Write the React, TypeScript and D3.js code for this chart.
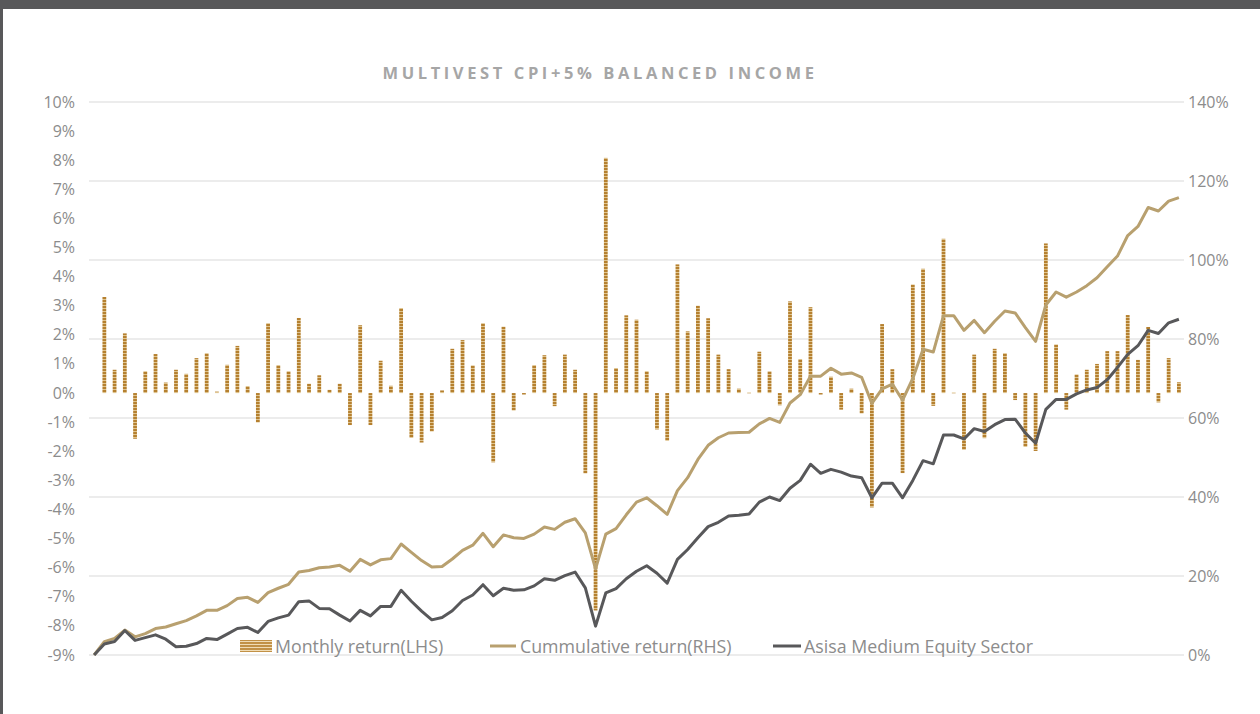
import React from "react";
import * as d3 from "d3";

const monthlyReturn: (number | null)[] = [
  null, 3.3, 0.8, 2.05, -1.57, 0.75, 1.34, 0.36, 0.8, 0.66, 1.2, 1.37, 0.05, 0.97, 1.62, 0.24, -1.01, 2.4, 0.96, 0.75, 2.58,
  0.32, 0.61, 0.11, 0.32, -1.1, 2.33, -1.1, 1.11, 0.25, 2.92, -1.54, -1.7, -1.32, 0.09, 1.52, 1.82, 0.95, 2.4, -2.38, 2.28, -0.6, -0.05,
  0.96, 1.3, -0.45, 1.32, 0.8, -2.76, -7.47, 8.08, 0.86, 2.67, 2.52, 0.75, -1.25, -1.64, 4.42, 2.12, 3.0, 2.57, 1.32, 0.82, 0.15,
  0.02, 1.42, 0.75, -0.42, 3.15, 1.17, 2.95, -0.05, 0.56, -0.57, 0.15, -0.7, -3.93, 2.37, 0.82, -2.75, 3.73, 4.27, -0.44, 5.3, 0.02,
  -1.95, 1.32, -1.55, 1.52, 1.37, -0.24, -1.85, -1.99, 5.14, 1.67, -0.57, 0.64, 0.8, 1.0, 1.44, 1.44, 2.68, 1.14, 2.27, -0.32, 1.2, 0.37,
];

const cumulativeReturn: number[] = [
  0, 3.4, 4.2, 6.3, 4.6, 5.4, 6.7, 7.1, 7.9, 8.7, 9.9, 11.3, 11.3, 12.5, 14.3, 14.6, 13.3, 15.8, 16.9, 17.9, 21.0,
  21.4, 22.1, 22.3, 22.7, 21.2, 24.2, 22.8, 24.1, 24.4, 28.1, 26.0, 23.9, 22.3, 22.4, 24.3, 26.5, 27.8, 30.8, 27.4, 30.4, 29.7, 29.5,
  30.6, 32.4, 31.8, 33.6, 34.5, 30.9, 21.8, 30.6, 32.0, 35.5, 38.7, 39.8, 37.8, 35.6, 41.6, 44.9, 49.5, 53.1, 55.0, 56.2, 56.3,
  56.4, 58.5, 59.9, 58.9, 63.8, 65.9, 70.6, 70.6, 72.6, 71.1, 71.4, 70.3, 63.7, 67.4, 68.6, 64.5, 70.0, 77.4, 76.7, 85.9, 85.9,
  82.2, 84.7, 81.6, 84.5, 87.1, 86.6, 82.9, 79.4, 88.6, 91.9, 90.6, 91.9, 93.5, 95.5, 98.3, 101.0, 106.2, 108.5, 113.3, 112.4, 114.9, 115.8,
];

const asisaSector: number[] = [
  0, 2.8, 3.4, 6.2, 3.7, 4.4, 5.1, 4.0, 2.1, 2.2, 2.9, 4.2, 3.9, 5.3, 6.7, 7.0, 5.7, 8.5, 9.4, 10.1, 13.5,
  13.7, 11.8, 11.7, 10.1, 8.6, 11.3, 9.9, 12.3, 12.3, 16.4, 13.6, 11.1, 8.9, 9.5, 11.2, 13.8, 15.2, 17.8, 15.0, 16.9, 16.4, 16.5,
  17.5, 19.3, 18.9, 20.1, 21.0, 17.0, 7.3, 15.7, 16.8, 19.3, 21.2, 22.6, 20.7, 18.2, 24.2, 26.7, 29.7, 32.5, 33.6, 35.2, 35.4,
  35.7, 38.7, 40.0, 39.1, 42.2, 44.2, 48.3, 46.0, 47.0, 46.3, 45.3, 44.9, 39.8, 43.5, 43.5, 39.8, 44.2, 49.2, 48.4, 55.7, 55.7,
  54.7, 57.3, 56.6, 58.3, 59.6, 59.7, 56.2, 53.6, 62.2, 64.7, 64.7, 66.1, 67.1, 67.7, 69.7, 72.8, 76.1, 78.3, 82.2, 81.4, 84.1, 85.0,
];

const categories: number[] = cumulativeReturn.map((_, i) => i);
const leftTicks: number[] = [10, 9, 8, 7, 6, 5, 4, 3, 2, 1, 0, -1, -2, -3, -4, -5, -6, -7, -8, -9];
const rightTicks: number[] = [0, 20, 40, 60, 80, 100, 120, 140];

const TITLE = "MULTIVEST CPI+5% BALANCED INCOME";
const LEGEND = ["Monthly return(LHS)", "Cummulative return(RHS)", "Asisa Medium Equity Sector"];

const W = 1260;
const H = 714;
const FONT = "'Open Sans', 'Noto Sans', sans-serif";
const GOLD = "#b8a06f";
const DARK = "#58585a";
const LABEL = "#8c8c8c";

export default function App() {
  const x = d3.scaleBand<number>().domain(categories).range([89, 1184]).paddingInner(0.63).paddingOuter(0.315);
  const step = x.step();
  const cx = (i: number) => 89 + step * (i + 0.5);
  const yL = d3.scaleLinear().domain([-9, 10]).range([655, 102]);
  const yR = d3.scaleLinear().domain([0, 140]).range([655, 102]);

  const lineGen = d3
    .line<number>()
    .x((_, i) => cx(i))
    .y((d) => yR(d));

  return (
    <svg width={W} height={H} style={{ position: "absolute", left: 0, top: 0, background: "#fff" }}>
      <defs>
        <pattern id="barPat" width="4" height="3" patternUnits="userSpaceOnUse">
          <rect width="4" height="3" fill="#b5802f" />
          <rect y="2" width="4" height="1" fill="#dfc48f" />
        </pattern>
        <pattern id="legPat" width="4" height="3" patternUnits="userSpaceOnUse">
          <rect width="4" height="3" fill="#c29146" />
          <rect y="2" width="4" height="1" fill="#f0dcb5" />
        </pattern>
      </defs>
      <rect x={0} y={0} width={W} height={H} fill="#fff" />
      <rect x={0} y={0} width={W} height={9} fill={DARK} />
      <rect x={0} y={0} width={3} height={H} fill={DARK} />

      <text
        x={600}
        y={79}
        textAnchor="middle"
        fontFamily={FONT}
        fontWeight={700}
        fontSize={16.5}
        letterSpacing={3.6}
        fill="#a6a6a6"
      >
        {TITLE}
      </text>

      {rightTicks.map((t) => (
        <line key={"g" + t} x1={89} x2={1184} y1={yR(t)} y2={yR(t)} stroke="#d9d9d9" strokeWidth={1} />
      ))}

      {leftTicks.map((t) => (
        <text key={"l" + t} x={75} y={yL(t) + 5.5} textAnchor="end" fontFamily={FONT} fontSize={16} fill={LABEL}>
          {t + "%"}
        </text>
      ))}
      {rightTicks.map((t) => (
        <text key={"r" + t} x={1188} y={yR(t) + 5.5} textAnchor="start" fontFamily={FONT} fontSize={16} fill={LABEL}>
          {t + "%"}
        </text>
      ))}

      {monthlyReturn.map((v, i) =>
        v === null ? null : (
          <rect
            key={"b" + i}
            x={x(i)}
            width={x.bandwidth()}
            y={Math.min(yL(v), yL(0))}
            height={Math.max(Math.abs(yL(v) - yL(0)), 0.8)}
            fill="url(#barPat)"
          />
        )
      )}

      <path d={lineGen(cumulativeReturn) || ""} fill="none" stroke={GOLD} strokeWidth={3} strokeLinejoin="round" />
      <path d={lineGen(asisaSector) || ""} fill="none" stroke={DARK} strokeWidth={3} strokeLinejoin="round" />

      <g fontFamily={FONT} fontSize={17.8} fill={LABEL}>
        <rect x={240} y={640} width={32} height={12} fill="url(#legPat)" />
        <text x={275} y={652.5}>{LEGEND[0]}</text>
        <line x1={490} x2={516} y1={646} y2={646} stroke={GOLD} strokeWidth={3} />
        <text x={520} y={652.5}>{LEGEND[1]}</text>
        <line x1={773} x2={801} y1={646} y2={646} stroke={DARK} strokeWidth={3} />
        <text x={804} y={652.5}>{LEGEND[2]}</text>
      </g>
    </svg>
  );
}
